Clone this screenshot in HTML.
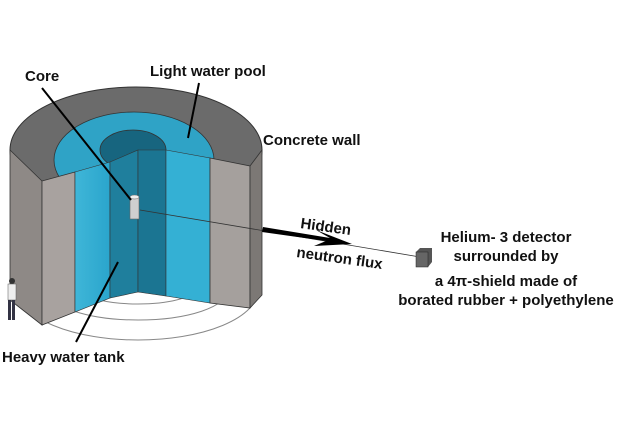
<!DOCTYPE html>
<html><head><style>
body{margin:0;background:#fff;width:620px;height:420px;overflow:hidden}
text{font-family:"Liberation Sans",Arial,sans-serif;font-weight:bold;font-size:15px;fill:#111}
</style></head><body>
<svg width="620" height="420" viewBox="0 0 620 420">
<defs>
<linearGradient id="lw" x1="0" x2="1"><stop offset="0" stop-color="#3fb6d8"/><stop offset="1" stop-color="#2aa5cc"/></linearGradient>
</defs>
<ellipse cx="138" cy="290" rx="120" ry="50" fill="none" stroke="#888" stroke-width="1"/>
<ellipse cx="138" cy="290" rx="90" ry="30" fill="none" stroke="#888" stroke-width="1"/>
<ellipse cx="138" cy="290" rx="55" ry="14" fill="none" stroke="#888" stroke-width="1"/>
<rect x="0" y="180" width="270" height="110" fill="#fff"/>
<ellipse cx="136" cy="150" rx="126" ry="63" fill="#6b6b6b" stroke="#333" stroke-width="1"/>
<ellipse cx="134" cy="160" rx="80" ry="48" fill="#2fa3c6" stroke="#333" stroke-width="0.8"/>
<ellipse cx="133" cy="150" rx="33" ry="20" fill="#17657f" stroke="#333" stroke-width="0.8"/>
<polygon points="10,150 42,181 42,325 10,300" fill="#8e8986" stroke="#333" stroke-width="0.8"/>
<polygon points="42,181 75,172 75,312 42,325" fill="#a8a29f" stroke="#333" stroke-width="0.8"/>
<polygon points="75,172 110,162 110,298 75,312" fill="url(#lw)" stroke="#333" stroke-width="0.6"/>
<polygon points="110,162 138,150 138,292 110,298" fill="#1f7f9d" stroke="#333" stroke-width="0.6"/>
<polygon points="138,150 166,150 166,296 138,292" fill="#1b7592" stroke="#333" stroke-width="0.6"/>
<polygon points="166,150 210,158 210,303 166,296" fill="#34b0d4" stroke="#333" stroke-width="0.6"/>
<polygon points="210,158 250,166 250,308 210,303" fill="#a5a09d" stroke="#333" stroke-width="0.8"/>
<polygon points="250,166 262,150 262,295 250,308" fill="#7c7875" stroke="#333" stroke-width="0.8"/>
<rect x="130" y="197" width="9" height="22" fill="#cfcfcf" stroke="#666" stroke-width="0.6"/>
<ellipse cx="134.5" cy="197" rx="4.5" ry="2" fill="#eee" stroke="#666" stroke-width="0.5"/>
<circle cx="12" cy="281" r="3" fill="#333"/>
<rect x="8" y="284" width="8" height="16" fill="#eee" stroke="#555" stroke-width="0.5"/>
<rect x="8" y="300" width="3" height="20" fill="#334"/>
<rect x="12" y="300" width="3" height="20" fill="#334"/>
<line x1="140" y1="210" x2="420" y2="257" stroke="#333" stroke-width="0.8"/>
<polygon points="263,227 330,238 316,230 352,244 314,246 326,241 262,232" fill="#000"/>
<polygon points="416,252 420,248 432,248 432,262 428,267 416,267" fill="#555"/>
<rect x="416" y="252" width="12" height="15" fill="#666" stroke="#222" stroke-width="0.5"/>
<line x1="42" y1="88" x2="131" y2="200" stroke="#000" stroke-width="2"/>
<line x1="199" y1="83" x2="188" y2="138" stroke="#000" stroke-width="2"/>
<line x1="118" y1="262" x2="76" y2="342" stroke="#000" stroke-width="2"/>
<text x="25" y="81">Core</text>
<text x="150" y="76">Light water pool</text>
<text x="263" y="145">Concrete wall</text>
<text x="2" y="362">Heavy water tank</text>
<text x="300" y="228" transform="rotate(8 300 228)">Hidden</text>
<text x="296" y="257" transform="rotate(8 296 257)">neutron flux</text>
<text x="506" y="242" text-anchor="middle">Helium- 3 detector</text>
<text x="506" y="261" text-anchor="middle">surrounded by</text>
<text x="506" y="286" text-anchor="middle">a 4π-shield made of</text>
<text x="506" y="305" text-anchor="middle">borated rubber + polyethylene</text>
</svg>
</body></html>
